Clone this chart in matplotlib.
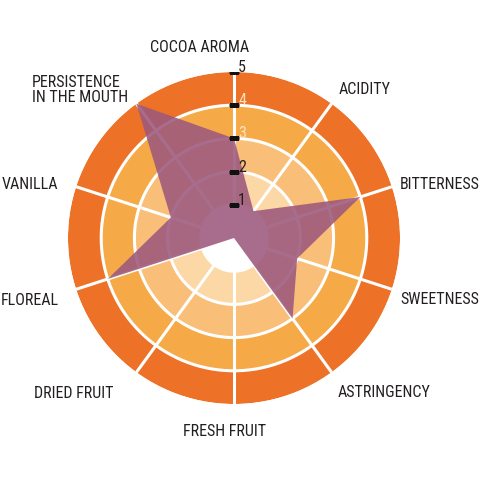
import numpy as np
import matplotlib
matplotlib.use('Agg')
import matplotlib.pyplot as plt

plt.rcParams['font.family'] = ['Roboto Condensed', 'DejaVu Sans']

# 軸ラベルと値
categories = ['COCOA AROMA', 'ACIDITY', 'BITTERNESS', 'SWEETNESS', 'ASTRINGENCY',
              'FRESH FRUIT', 'DRIED FRUIT', 'FLOREAL', 'VANILLA', 'PERSISTENCE\nIN THE MOUTH']
values = [3, 1, 4, 2, 3, 0, 0, 4, 2, 5]
levels = [1, 2, 3, 4, 5]
band_colors = ['#ffffff', '#fcd8a6', '#f9bf78', '#f5aa47', '#ee7128']
level_label_colors = ['#231f20', '#231f20', '#fde3bf', '#fde3bf', '#231f20']

# ラベル位置 (pixel, 上から)
label_pos = [(200, 47, 'center'), (365, 90, 'center'), (440, 185, 'center'),
             (440, 300, 'center'), (384, 393, 'center'), (225, 432, 'center'),
             (74, 394, 'center'), (30, 301, 'center'), (30, 185, 'center'),
             (32, 90, 'left')]

W, H = 480, 481
cx, cy, R = 234, 239, 166

fig = plt.figure(figsize=(W / 100, H / 100), dpi=100)
ax = fig.add_axes([(cx - R) / W, (H - cy - R) / H, 2 * R / W, 2 * R / H], polar=True)
ax.set_theta_zero_location('N')
ax.set_theta_direction(-1)
ax.set_ylim(0, 5)
ax.axis('off')

# 背景の帯
for i, c in enumerate(band_colors):
    ax.bar(0, 1, width=2 * np.pi, bottom=i, color=c, edgecolor='none', zorder=1)

# 円と放射線
t = np.linspace(0, 2 * np.pi, 400)
for lv in levels[:-1]:
    ax.plot(t, np.full_like(t, lv), color='white', lw=2.2, zorder=2)
n = len(categories)
angles = np.arange(n) * 2 * np.pi / n
for a in angles:
    ax.plot([a, a], [0, 5], color='white', lw=2.2, zorder=2)

# データ
a_closed = np.append(angles, angles[0])
v_closed = np.append(values, values[0])
ax.fill(a_closed, v_closed, color='#9c587c', alpha=0.88, lw=0, zorder=3)

# 目盛り
for lv, col in zip(levels, level_label_colors):
    ax.plot([0], [lv], marker='_', ms=6.5, mew=2.2, color='#111111', zorder=4)
    ax.annotate(str(lv), (0, lv), xytext=(3, 4), textcoords='offset points',
                fontsize=11.5, color=col, ha='left', va='center', zorder=5)

for name, (px, py, ha) in zip(categories, label_pos):
    fig.text(px / W, 1 - py / H, name, ha=ha, va='center', fontsize=11.5,
             color='#231f20', linespacing=1.0)

fig.savefig('out.png', dpi=100)
